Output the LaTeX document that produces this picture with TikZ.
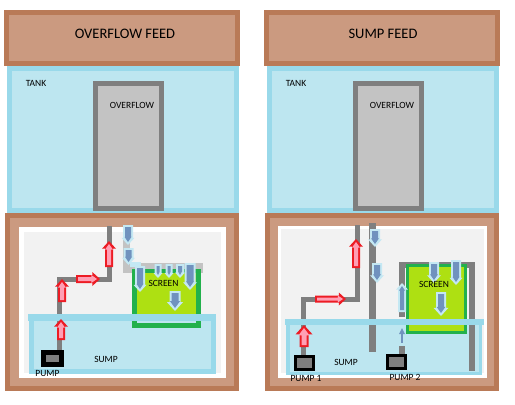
\documentclass[tikz,border=0pt]{standalone}
\usepackage{fontspec}
\setmainfont{Carlito}
\definecolor{woodedge}{HTML}{B97A57}
\definecolor{woodfill}{HTML}{CB9A80}
\definecolor{wateredge}{HTML}{99D9EA}
\definecolor{waterfill}{HTML}{BDE6F0}
\definecolor{pipegray}{HTML}{7F7F7F}
\definecolor{palegray}{HTML}{C3C3C3}
\definecolor{cabinet}{HTML}{F2F2F2}
\definecolor{screenedge}{HTML}{22B14C}
\definecolor{screenfill}{HTML}{AEE012}
\definecolor{redout}{HTML}{ED1C24}
\definecolor{redin}{HTML}{FF9FB4}
\definecolor{blueout}{HTML}{C4E8F3}
\definecolor{bluein}{HTML}{7092BE}
\tikzset{
  pipeline/.style={draw=pipegray,line width=5pt,line join=miter},
  lbl/.style={inner sep=0pt,font=\fontsize{9.5}{11}\selectfont,text=black},
  title/.style={inner sep=0pt,font=\fontsize{14.5}{16}\selectfont,text=black}
}
% two-tone framed rectangle: x1,y1,x2,y2,edge colour,fill colour,edge width
\newcommand\framedbox[7]{%
  \fill[#5] (#1,#2) rectangle (#3,#4);
  \fill[#6] (#1+#7,#2+#7) rectangle (#3-#7,#4-#7);}
% vertical block arrow: colour prefix,x,tip,base,head half-width,shaft half-width
\newcommand\flowV[6]{%
  \pgfmathsetmacro\myd{(#4>#3)?1:-1}%
  \pgfmathsetmacro\myh{#5*1.1*\myd}%
  \fill[#1out] (#2,#3)--(#2+#5,#3+\myh)--(#2+#6,#3+\myh)--(#2+#6,#4)--(#2-#6,#4)--(#2-#6,#3+\myh)--(#2-#5,#3+\myh)--cycle;
  \fill[#1in] (#2,#3+3*\myd)--(#2+#5-3,#3+\myh+\myd)--(#2+#6-2,#3+\myh+\myd)--(#2+#6-2,#4-2*\myd)--(#2-#6+2,#4-2*\myd)--(#2-#6+2,#3+\myh+\myd)--(#2-#5+3,#3+\myh+\myd)--cycle;}
% horizontal block arrow: colour prefix,y,tip,base,head half-width,shaft half-width
\newcommand\flowH[6]{%
  \pgfmathsetmacro\myd{(#4>#3)?1:-1}%
  \pgfmathsetmacro\myh{#5*1.1*\myd}%
  \fill[#1out] (#3,#2)--(#3+\myh,#2+#5)--(#3+\myh,#2+#6)--(#4,#2+#6)--(#4,#2-#6)--(#3+\myh,#2-#6)--(#3+\myh,#2-#5)--cycle;
  \fill[#1in] (#3+3*\myd,#2)--(#3+\myh+\myd,#2+#5-3)--(#3+\myh+\myd,#2+#6-2)--(#4-2*\myd,#2+#6-2)--(#4-2*\myd,#2-#6+2)--(#3+\myh+\myd,#2-#6+2)--(#3+\myh+\myd,#2-#5+3)--cycle;}
\begin{document}
\begin{tikzpicture}[x=1pt,y=-1pt]
\useasboundingbox (0,0) rectangle (515,405);
\fill[white] (0,0) rectangle (515,405);
% ---------- LEFT: upper part
\fill[woodedge] (5,213) rectangle (239,215);
\framedbox{7}{66}{239}{213}{wateredge}{waterfill}{5}
\framedbox{93}{81}{164}{211}{pipegray}{palegray}{5}
\framedbox{4}{10}{240}{66}{woodedge}{woodfill}{5}
\node[title] (titleA) at (125,34) {OVERFLOW FEED};
\node[lbl] (tankA) at (36,83) {TANK};
\node[lbl] (ovfA) at (132,105) {OVERFLOW};
% ---------- LEFT: lower part
\framedbox{5}{213}{239}{391}{woodedge}{woodfill}{5}
\fill[white] (19,227) rectangle (226,378);
\fill[cabinet] (24,232) rectangle (221,373);
\framedbox{29}{316}{216}{374}{wateredge}{waterfill}{5}
\coordinate (a1) at (59.5,352);
\coordinate (a2) at (59.5,279);
\coordinate (a3) at (109,279);
\coordinate (a4) at (109,226);
\draw[pipeline] (a1)--(a2)--(a3)--(a4);
\fill[palegray] (123,233) rectangle (130,272);
\fill[palegray] (123,263) rectangle (203,273);
\fill[screenedge] (132,269) rectangle (201,328);
\fill[screenfill] (137,273) rectangle (196,316);
\fill[waterfill] (137,316) rectangle (196,323);
\fill[wateredge] (28,314) rectangle (216,321);
\fill[black] (41,350) rectangle (64,367);
\fill[pipegray] (46,355) rectangle (59,362);
\flowV{red}{61}{319}{340}{7}{4}
\flowV{red}{62}{279}{302}{7}{4}
\flowH{red}{279}{100}{76}{7}{4}
\flowV{red}{109}{241}{267}{7}{4}
\fill[blueout] (130,262) rectangle (141,267);
\flowV{blue}{128}{245}{225}{6.5}{5}
\flowV{blue}{128.5}{265}{248}{6.5}{5}
\flowV{blue}{140}{292}{266}{6.5}{5}
\flowV{blue}{158}{278}{264}{4.5}{3.5}
\flowV{blue}{169}{278}{264}{4.5}{3.5}
\flowV{blue}{180}{278}{264}{5}{4}
\flowV{blue}{190}{290}{263}{7}{5.5}
\flowV{blue}{175}{311}{291}{8}{5.5}
\node[lbl] (scrA) at (163.5,283.5) {SCREEN};
\node[lbl] (sumpA) at (106,359.5) {SUMP};
\node[lbl] (pumpA) at (47.5,373.5) {PUMP};
% ---------- RIGHT: upper part
\fill[woodedge] (265,213) rectangle (499,215);
\framedbox{267}{66}{499}{213}{wateredge}{waterfill}{5}
\framedbox{353}{81}{424}{211}{pipegray}{palegray}{5}
\framedbox{264}{10}{500}{66}{woodedge}{woodfill}{5}
\node[title] (titleB) at (383,34) {SUMP FEED};
\node[lbl] (tankB) at (296,83) {TANK};
\node[lbl] (ovfB) at (392,105) {OVERFLOW};
% ---------- RIGHT: lower part
\framedbox{265}{213}{499}{391}{woodedge}{woodfill}{5}
\fill[white] (278,226) rectangle (487,378);
\fill[cabinet] (281,229) rectangle (484,373);
\framedbox{286}{321}{482}{375}{wateredge}{waterfill}{3.5}
\coordinate (b1) at (303.5,356);
\coordinate (b2) at (303.5,299);
\coordinate (b3) at (357,299);
\coordinate (b4) at (357,225);
\draw[pipeline] (b1)--(b2)--(b3)--(b4);
\coordinate (c1) at (372.5,223);
\coordinate (c2) at (372.5,352);
\draw[pipeline,line width=7pt] (c1)--(c2);
\coordinate (d1) at (402,317);
\coordinate (d2) at (402,264.5);
\coordinate (d3) at (471.5,264.5);
\coordinate (d4) at (471.5,371);
\draw[pipeline,line width=6pt] (d1)--(d2)--(d3)--(d4);
\fill[pipegray] (399,346) rectangle (405,355);
\fill[screenedge] (406,264) rectangle (467,334);
\fill[screenfill] (409,267) rectangle (464,331);
\fill[wateredge] (285,319) rectangle (484,325);
\framedbox{294}{355}{315}{371}{black}{pipegray}{3}
\framedbox{386}{354}{407}{370}{black}{pipegray}{3}
\flowV{red}{304}{325}{347}{8.5}{4.5}
\flowH{red}{299}{346}{315}{6.5}{3.5}
\flowV{red}{356}{239}{268}{7}{4}
\flowV{blue}{375}{247}{229}{7}{5}
\flowV{blue}{377}{283}{263}{7}{5}
\flowV{blue}{402}{283}{312}{6}{4}
\fill[bluein] (401.2,333) rectangle (402.8,343);
\fill[bluein] (402,328)--(405,334)--(399,334)--cycle;
\flowV{blue}{434}{283}{262}{7}{5}
\flowV{blue}{456}{285}{260}{6.5}{5}
\flowV{blue}{441}{316}{292}{7.5}{5}
\node[lbl] (scrB) at (434,284.5) {SCREEN};
\node[lbl] (sumpB) at (346,362) {SUMP};
\node[lbl] (pumpB) at (306,378.5) {PUMP 1};
\node[lbl] (pumpC) at (405,377) {PUMP 2};
\end{tikzpicture}
\end{document}
